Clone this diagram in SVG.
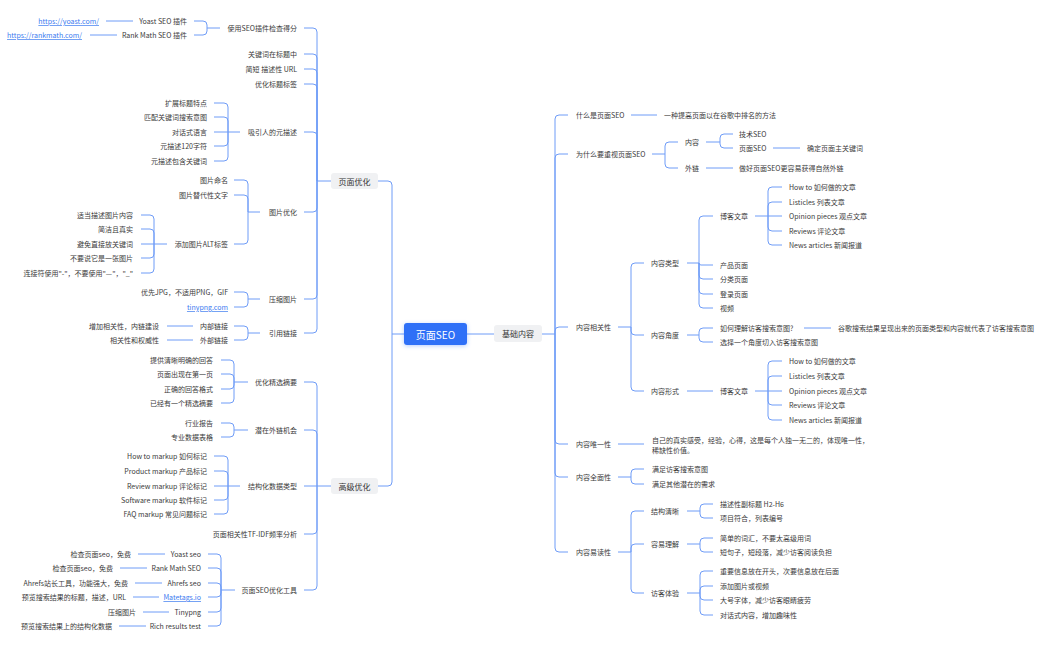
<svg xmlns="http://www.w3.org/2000/svg" width="1057" height="647" viewBox="0 0 1057 647">
<style>
.t{font-family:"Noto Sans CJK SC","Noto Sans",sans-serif;font-size:7px;fill:#3a3a3a;dominant-baseline:central}
.r{text-anchor:end}
.lk{fill:#3a7af0;text-decoration:underline}
.ln{fill:none;stroke:#6f9cf7;stroke-width:1}
.b1{fill:#f0f1f3}
.h1{font-size:8px;text-anchor:middle;fill:#333}
.h0{font-size:10px;text-anchor:middle;fill:#fff}
</style>
<defs>
<filter id="glow" x="-30%" y="-50%" width="160%" height="200%">
<feDropShadow dx="0" dy="1" stdDeviation="2" flood-color="#2d6ff7" flood-opacity="0.35"/>
</filter>
</defs>
<rect width="1057" height="647" fill="#fff"/>
<g id="connectors">
<path class="ln" d="M404 334 H392 M392 334 V185 Q392 181 388 181 H378 M392 334 V482 Q392 486 388 486 H378 M467 334 H494"/>
<path class="ln" d="M331 181 H317 M317 181 V32 Q317 28 313 28 H304 M317 181 V58 Q317 54 313 54 H304 M317 181 V73 Q317 69 313 69 H304 M317 181 V88 Q317 84 313 84 H304 M317 181 V136 Q317 132 313 132 H304 M317 181 V208 Q317 212 313 212 H304 M317 181 V295 Q317 299 313 299 H304 M317 181 V329 Q317 333 313 333 H304"/>
<path class="ln" d="M220 28 H207 M207 28 V25 Q207 21 203 21 H194 M207 28 V31 Q207 35 203 35 H194 M133 21 H106 M117 35 H90"/>
<path class="ln" d="M240 132 H228 M228 132 V107 Q228 103 224 103 H214 M228 132 V121 Q228 117 224 117 H214 M228 132 H214 M228 132 V142 Q228 146 224 146 H214 M228 132 V157 Q228 161 224 161 H214"/>
<path class="ln" d="M260 212 H248 M248 212 V184 Q248 180 244 180 H234 M248 212 V199 Q248 195 244 195 H234 M248 212 V240 Q248 244 244 244 H234"/>
<path class="ln" d="M167 244 H154 M154 244 V219 Q154 215 150 215 H141 M154 244 V233 Q154 229 150 229 H141 M154 244 H141 M154 244 V254 Q154 258 150 258 H141 M154 244 V269 Q154 273 150 273 H141"/>
<path class="ln" d="M260 299 H248 M248 299 V296 Q248 292 244 292 H234 M248 299 V303 Q248 307 244 307 H234"/>
<path class="ln" d="M260 333 H248 M248 333 V330 Q248 326 244 326 H234 M248 333 V336 Q248 340 244 340 H234 M193 326 H167 M193 340 H167"/>
<path class="ln" d="M331 486 H317 M317 486 V386 Q317 382 313 382 H304 M317 486 V434 Q317 430 313 430 H304 M317 486 H304 M317 486 V530 Q317 534 313 534 H304 M317 486 V586 Q317 590 313 590 H304"/>
<path class="ln" d="M248 382 H234 M234 382 V364 Q234 360 230 360 H221 M234 382 V378 Q234 374 230 374 H221 M234 382 V385 Q234 389 230 389 H221 M234 382 V399 Q234 403 230 403 H221"/>
<path class="ln" d="M248 430 H234 M234 430 V427 Q234 423 230 423 H221 M234 430 V433 Q234 437 230 437 H221"/>
<path class="ln" d="M240 486 H228 M228 486 V460 Q228 456 224 456 H214 M228 486 V475 Q228 471 224 471 H214 M228 486 H214 M228 486 V496 Q228 500 224 500 H214 M228 486 V510 Q228 514 224 514 H214"/>
<path class="ln" d="M235 590 H221 M221 590 V558 Q221 554 217 554 H208 M221 590 V572 Q221 568 217 568 H208 M221 590 V587 Q221 583 217 583 H208 M221 590 V593 Q221 597 217 597 H208 M221 590 V608 Q221 612 217 612 H208 M221 590 V622 Q221 626 217 626 H208"/>
<path class="ln" d="M165 554 H138 M147 568 H120 M162 583 H135 M159 597 H133 M169 612 H143 M146 626 H119"/>
<path class="ln" d="M542 334 H555 M555 334 V119 Q555 115 559 115 H568 M555 334 V158 Q555 154 559 154 H568 M555 334 V331 Q555 327 559 327 H568 M555 334 V440 Q555 444 559 444 H568 M555 334 V473 Q555 477 559 477 H568 M555 334 V548 Q555 552 559 552 H568"/>
<path class="ln" d="M631 115 H657 M652 154 H665 M665 154 V146 Q665 142 669 142 H678 M665 154 V164 Q665 168 669 168 H678 M706 142 H720 M720 142 V138 Q720 134 724 134 H733 M720 142 V144 Q720 148 724 148 H733 M773 148 H800 M706 168 H733"/>
<path class="ln" d="M618 327 H631 M631 327 V267 Q631 263 635 263 H644 M631 327 V331 Q631 335 635 335 H644 M631 327 V387 Q631 391 635 391 H644"/>
<path class="ln" d="M687 263 H699 M699 263 V220 Q699 216 703 216 H713 M699 263 Q699 265 701 265 H713 M699 263 V275 Q699 279 703 279 H713 M699 263 V290 Q699 294 703 294 H713 M699 263 V304 Q699 308 703 308 H713"/>
<path class="ln" d="M755 216 H768 M768 216 V191 Q768 187 772 187 H782 M768 216 V206 Q768 202 772 202 H782 M768 216 H782 M768 216 V227 Q768 231 772 231 H782 M768 216 V241 Q768 245 772 245 H782"/>
<path class="ln" d="M687 335 H699 M699 335 V332 Q699 328 703 328 H713 M699 335 V338 Q699 342 703 342 H713 M804 328 H831"/>
<path class="ln" d="M687 391 H713 M755 391 H768 M768 391 V365 Q768 361 772 361 H782 M768 391 V380 Q768 376 772 376 H782 M768 391 H782 M768 391 V401 Q768 405 772 405 H782 M768 391 V416 Q768 420 772 420 H782"/>
<path class="ln" d="M618 444 H644 M618 477 H631 M631 477 V473 Q631 469 635 469 H644 M631 477 V480 Q631 484 635 484 H644"/>
<path class="ln" d="M618 552 H631 M631 552 V515 Q631 511 635 511 H644 M631 552 V548 Q631 544 635 544 H644 M631 552 V589 Q631 593 635 593 H644"/>
<path class="ln" d="M687 511 H700 M700 511 V508 Q700 504 704 504 H713 M700 511 V514 Q700 518 704 518 H713 M687 544 H700 M700 544 V542 Q700 538 704 538 H713 M700 544 V548 Q700 552 704 552 H713 M687 593 H700 M700 593 V575 Q700 571 704 571 H713 M700 593 V590 Q700 586 704 586 H713 M700 593 V596 Q700 600 704 600 H713 M700 593 V611 Q700 615 704 615 H713"/>
</g>
<g id="root"><rect x="404" y="323" width="63" height="22" rx="3" fill="#2d6ff7" filter="url(#glow)"/><text class="t h0" x="435.5" y="334">页面SEO</text></g>
<g id="basic"><rect class="b1" x="494" y="325" width="48" height="17" rx="3"/><text class="t h1" x="518" y="333.5">基础内容</text></g>
<g id="onpage"><rect class="b1" x="331" y="173" width="47" height="16" rx="3"/><text class="t h1" x="354.5" y="181">页面优化</text></g>
<g id="advanced"><rect class="b1" x="331" y="478" width="47" height="16" rx="3"/><text class="t h1" x="354.5" y="486">高级优化</text></g>
<g id="left-onpage">
<g id="l-plugin"><text class="t r" x="297" y="28">使用SEO插件检查得分</text></g>
<g id="l-yoast"><text class="t r" x="187" y="21">Yoast SEO 插件</text></g>
<g id="l-yoast-url"><text class="t r lk" x="99" y="21">https://yoast.com/</text></g>
<g id="l-rank"><text class="t r" x="187" y="35">Rank Math SEO 插件</text></g>
<g id="l-rank-url"><text class="t r lk" x="82" y="35">https://rankmath.com/</text></g>
<g id="l-kw"><text class="t r" x="297" y="54">关键词在标题中</text></g>
<g id="l-url"><text class="t r" x="297" y="69">简短 描述性 URL</text></g>
<g id="l-title"><text class="t r" x="297" y="84">优化标题标签</text></g>
<g id="l-meta"><text class="t r" x="297" y="132">吸引人的元描述</text></g>
<g id="l-meta1"><text class="t r" x="207" y="103">扩展标题特点</text></g>
<g id="l-meta2"><text class="t r" x="207" y="117">匹配关键词搜索意图</text></g>
<g id="l-meta3"><text class="t r" x="207" y="132">对话式语言</text></g>
<g id="l-meta4"><text class="t r" x="207" y="146">元描述120字符</text></g>
<g id="l-meta5"><text class="t r" x="207" y="161">元描述包含关键词</text></g>
<g id="l-img"><text class="t r" x="297" y="212">图片优化</text></g>
<g id="l-img1"><text class="t r" x="228" y="180">图片命名</text></g>
<g id="l-img2"><text class="t r" x="228" y="195">图片替代性文字</text></g>
<g id="l-alt"><text class="t r" x="228" y="244">添加图片ALT标签</text></g>
<g id="l-alt1"><text class="t r" x="133" y="215">适当描述图片内容</text></g>
<g id="l-alt2"><text class="t r" x="133" y="229">简洁且真实</text></g>
<g id="l-alt3"><text class="t r" x="133" y="244">避免直接放关键词</text></g>
<g id="l-alt4"><text class="t r" x="133" y="258">不要说它是一张图片</text></g>
<g id="l-alt5"><text class="t r" x="133" y="273">连接符使用"-"，不要使用"—"，"_"</text></g>
<g id="l-zip"><text class="t r" x="297" y="299">压缩图片</text></g>
<g id="l-zip1"><text class="t r" x="228" y="292">优先JPG，不适用PNG，GIF</text></g>
<g id="l-zip2"><text class="t r lk" x="228" y="307">tinypng.com</text></g>
<g id="l-link"><text class="t r" x="297" y="333">引用链接</text></g>
<g id="l-in"><text class="t r" x="228" y="326">内部链接</text></g>
<g id="l-in1"><text class="t r" x="159" y="326">增加相关性，内链建设</text></g>
<g id="l-out"><text class="t r" x="228" y="340">外部链接</text></g>
<g id="l-out1"><text class="t r" x="159" y="340">相关性和权威性</text></g>
</g>
<g id="left-advanced">
<g id="a-snip"><text class="t r" x="297" y="382">优化精选摘要</text></g>
<g id="a-snip1"><text class="t r" x="213" y="360">提供清晰明确的回答</text></g>
<g id="a-snip2"><text class="t r" x="213" y="374">页面出现在第一页</text></g>
<g id="a-snip3"><text class="t r" x="213" y="389">正确的回答格式</text></g>
<g id="a-snip4"><text class="t r" x="213" y="403">已经有一个精选摘要</text></g>
<g id="a-bl"><text class="t r" x="297" y="430">潜在外链机会</text></g>
<g id="a-bl1"><text class="t r" x="213" y="423">行业报告</text></g>
<g id="a-bl2"><text class="t r" x="213" y="437">专业数据表格</text></g>
<g id="a-sd"><text class="t r" x="297" y="486">结构化数据类型</text></g>
<g id="a-sd1"><text class="t r" x="207" y="456">How to markup 如何标记</text></g>
<g id="a-sd2"><text class="t r" x="207" y="471">Product markup 产品标记</text></g>
<g id="a-sd3"><text class="t r" x="207" y="486">Review markup 评论标记</text></g>
<g id="a-sd4"><text class="t r" x="207" y="500">Software markup 软件标记</text></g>
<g id="a-sd5"><text class="t r" x="207" y="514">FAQ markup 常见问题标记</text></g>
<g id="a-tfidf"><text class="t r" x="297" y="534">页面相关性TF-IDF频率分析</text></g>
<g id="a-tools"><text class="t r" x="297" y="590">页面SEO优化工具</text></g>
<g id="a-t1"><text class="t r" x="201" y="554">Yoast seo</text></g>
<g id="a-t1d"><text class="t r" x="131" y="554">检查页面seo，免费</text></g>
<g id="a-t2"><text class="t r" x="201" y="568">Rank Math SEO</text></g>
<g id="a-t2d"><text class="t r" x="113" y="568">检查页面seo，免费</text></g>
<g id="a-t3"><text class="t r" x="201" y="583">Ahrefs seo</text></g>
<g id="a-t3d"><text class="t r" x="128" y="583">Ahrefs站长工具，功能强大，免费</text></g>
<g id="a-t4"><text class="t r lk" x="201" y="597">Matetags.io</text></g>
<g id="a-t4d"><text class="t r" x="126" y="597">预览搜索结果的标题，描述，URL</text></g>
<g id="a-t5"><text class="t r" x="201" y="612">Tinypng</text></g>
<g id="a-t5d"><text class="t r" x="136" y="612">压缩图片</text></g>
<g id="a-t6"><text class="t r" x="201" y="626">Rich results test</text></g>
<g id="a-t6d"><text class="t r" x="112" y="626">预览搜索结果上的结构化数据</text></g>
</g>
<g id="right-basic">
<g id="b-what"><text class="t" x="576" y="115">什么是页面SEO</text></g>
<g id="b-what1"><text class="t" x="664" y="115">一种提高页面以在谷歌中排名的方法</text></g>
<g id="b-why"><text class="t" x="576" y="154">为什么要重视页面SEO</text></g>
<g id="b-why-c"><text class="t" x="685" y="142">内容</text></g>
<g id="b-tech"><text class="t" x="739" y="134">技术SEO</text></g>
<g id="b-page"><text class="t" x="739" y="148">页面SEO</text></g>
<g id="b-page1"><text class="t" x="807" y="148">确定页面主关键词</text></g>
<g id="b-why-l"><text class="t" x="685" y="168">外链</text></g>
<g id="b-why-l1"><text class="t" x="739" y="168">做好页面SEO更容易获得自然外链</text></g>
<g id="b-rel"><text class="t" x="576" y="327">内容相关性</text></g>
<g id="b-type"><text class="t" x="651" y="263">内容类型</text></g>
<g id="b-blog"><text class="t" x="720" y="216">博客文章</text></g>
<g id="b-blog1"><text class="t" x="789" y="187">How to 如何做的文章</text></g>
<g id="b-blog2"><text class="t" x="789" y="202">Listicles 列表文章</text></g>
<g id="b-blog3"><text class="t" x="789" y="216">Opinion pieces 观点文章</text></g>
<g id="b-blog4"><text class="t" x="789" y="231">Reviews 评论文章</text></g>
<g id="b-blog5"><text class="t" x="789" y="245">News articles 新闻报道</text></g>
<g id="b-prod"><text class="t" x="720" y="265">产品页面</text></g>
<g id="b-cat"><text class="t" x="720" y="279">分类页面</text></g>
<g id="b-land"><text class="t" x="720" y="294">登录页面</text></g>
<g id="b-video"><text class="t" x="720" y="308">视频</text></g>
<g id="b-angle"><text class="t" x="651" y="335">内容角度</text></g>
<g id="b-angle1"><text class="t" x="720" y="328">如何理解访客搜索意图?</text></g>
<g id="b-angle1a"><text class="t" x="838" y="328">谷歌搜索结果呈现出来的页面类型和内容就代表了访客搜索意图</text></g>
<g id="b-angle2"><text class="t" x="720" y="342">选择一个角度切入访客搜索意图</text></g>
<g id="b-form"><text class="t" x="651" y="391">内容形式</text></g>
<g id="b-blogf"><text class="t" x="720" y="391">博客文章</text></g>
<g id="b-blogf1"><text class="t" x="789" y="361">How to 如何做的文章</text></g>
<g id="b-blogf2"><text class="t" x="789" y="376">Listicles 列表文章</text></g>
<g id="b-blogf3"><text class="t" x="789" y="391">Opinion pieces 观点文章</text></g>
<g id="b-blogf4"><text class="t" x="789" y="405">Reviews 评论文章</text></g>
<g id="b-blogf5"><text class="t" x="789" y="420">News articles 新闻报道</text></g>
<g id="b-uniq"><text class="t" x="576" y="444">内容唯一性</text></g>
<g id="b-uniq1"><text class="t" x="652" y="440">自己的真实感受，经验，心得，这是每个人独一无二的，体现唯一性，</text><text class="t" x="652" y="450">稀缺性价值。</text></g>
<g id="b-full"><text class="t" x="576" y="477">内容全面性</text></g>
<g id="b-full1"><text class="t" x="652" y="469">满足访客搜索意图</text></g>
<g id="b-full2"><text class="t" x="652" y="484">满足其他潜在的需求</text></g>
<g id="b-read"><text class="t" x="576" y="552">内容易读性</text></g>
<g id="b-struct"><text class="t" x="651" y="511">结构清晰</text></g>
<g id="b-struct1"><text class="t" x="720" y="504">描述性副标题 H2-H6</text></g>
<g id="b-struct2"><text class="t" x="720" y="518">项目符合，列表编号</text></g>
<g id="b-easy"><text class="t" x="651" y="544">容易理解</text></g>
<g id="b-easy1"><text class="t" x="720" y="538">简单的词汇，不要太高级用词</text></g>
<g id="b-easy2"><text class="t" x="720" y="552">短句子，短段落，减少访客阅读负担</text></g>
<g id="b-ux"><text class="t" x="651" y="593">访客体验</text></g>
<g id="b-ux1"><text class="t" x="720" y="571">重要信息放在开头，次要信息放在后面</text></g>
<g id="b-ux2"><text class="t" x="720" y="586">添加图片或视频</text></g>
<g id="b-ux3"><text class="t" x="720" y="600">大号字体，减少访客眼睛疲劳</text></g>
<g id="b-ux4"><text class="t" x="720" y="615">对话式内容，增加趣味性</text></g>
</g>
</svg>
